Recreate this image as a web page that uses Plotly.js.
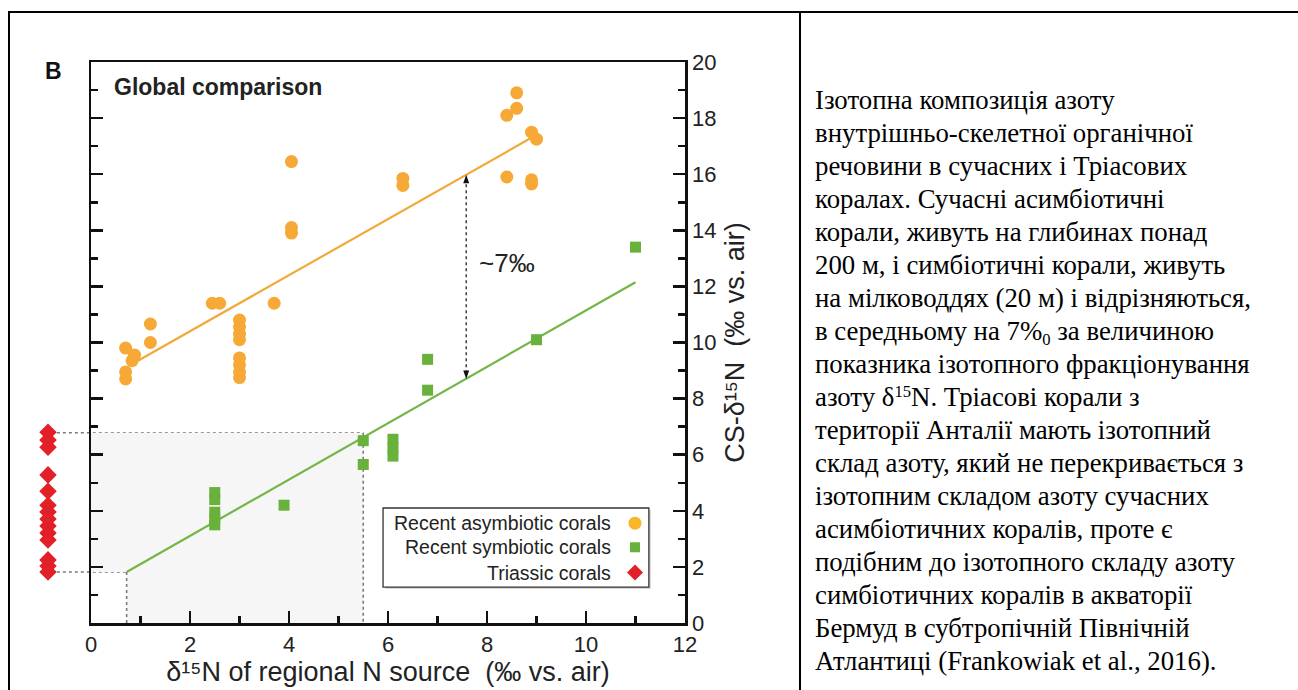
<!DOCTYPE html>
<html><head><meta charset="utf-8">
<script src="https://cdn.plot.ly/plotly-3.0.1.min.js"></script>
<style>
body{margin:0;background:#fff;width:1298px;height:690px;overflow:hidden;position:relative;}
#plot{position:absolute;left:0;top:0;width:800px;height:690px;}
.bl{position:absolute;background:#000;z-index:5;pointer-events:none}
#txt{position:absolute;left:815px;top:84px;font-family:"Liberation Serif","Times New Roman",serif;font-size:26.8px;line-height:33px;color:#000;white-space:nowrap;}
#txt div{height:33px}
#txt .sb{font-size:0.62em;position:relative;top:0.3em}
#txt .sp{font-size:0.62em;position:relative;top:-0.55em}
</style></head><body>
<div id="plot"></div>
<div class="bl" style="left:8px;top:11px;width:2px;height:679px"></div>
<div class="bl" style="left:8px;top:11px;width:1290px;height:2px"></div>
<div class="bl" style="left:799px;top:11px;width:2px;height:679px"></div>
<div id="txt"></div>
<script>
// ---- data ----
const asymX = [0.7,0.7,0.7,0.88,0.83,1.2,1.2,2.45,2.6,3.0,3.0,3.0,3.0,3.0,3.0,3.0,3.0,3.7,4.05,4.05,4.05,6.3,6.3,8.4,8.4,8.6,8.6,8.9,8.9,8.9,9.0];
const asymY = [9.8,8.95,8.7,9.55,9.35,10.66,10.0,11.4,11.4,10.8,10.55,10.3,10.1,9.45,9.2,8.95,8.75,11.4,16.45,14.1,13.9,15.85,15.6,18.1,15.9,18.9,18.35,17.5,15.8,15.65,17.25];
const symX = [2.5,2.5,2.5,2.5,2.5,3.9,5.5,5.5,6.1,6.1,6.1,6.8,6.8,9.0,11.0];
const symY = [4.65,4.4,3.95,3.7,3.5,4.2,6.5,5.65,6.55,6.25,5.95,9.4,8.3,10.1,13.4];
const triassicX = [0,0,0,0,0,0,0,0,0,0,0,0,0,0];
const triassicY = [6.8,6.52,6.27,5.28,4.7,4.2,3.96,3.71,3.46,3.21,2.96,2.25,2.03,1.82];
const asymFitX = [0.85,8.95];
const asymFitY = [9.25,17.35];
const symFitX = [0.72,11.0];
const symFitY = [1.82,12.15];
const xTicks = [0,2,4,6,8,10,12];
const yTicks = [0,2,4,6,8,10,12,14,16,18,20];
const legendLabels = ["Recent asymbiotic corals","Recent symbiotic corals","Triassic corals"];
const textLines = [
"Ізотопна композиція азоту",
"внутрішньо-скелетної органічної",
"речовини в сучасних і Тріасових",
"коралах. Сучасні асимбіотичні",
"корали, живуть на глибинах понад",
"200 м, і симбіотичні корали, живуть",
"на мілководдях (20 м) і відрізняються,",
"в середньому на 7%<span class=\"sb\">0</span> за величиною",
"показника ізотопного фракціонування",
"азоту δ<span class=\"sp\">15</span>N. Тріасові корали з",
"території Анталії мають ізотопний",
"склад азоту, який не перекривається з",
"ізотопним складом азоту сучасних",
"асимбіотичних коралів, проте є",
"подібним до ізотопного складу азоту",
"симбіотичних коралів в акваторії",
"Бермуд в субтропічній Північній",
"Атлантиці (Frankowiak et al., 2016)."
];
document.getElementById('txt').innerHTML = textLines.map(l=>'<div>'+l+'</div>').join('');

const ML=20, MR=115, MT=62, MB=67, W=800, H=690;
const PW=W-ML-MR, PH=H-MT-MB;
const d0 = (91-ML)/PW;
const xRange=[0,12], yRange=[0,20];
const xp = v => d0 + (v - xRange[0])/(xRange[1]-xRange[0])*(1-d0);
const pxX = px => (px-ML)/PW;
const pxY = py => (H-MB-py)/PH;
const SANS = 'Liberation Sans, Arial, sans-serif';
const orange='#f6a936', green='#68b13d', red='#e2202a';

const traces = [
 {x:asymFitX,y:asymFitY,mode:'lines',line:{color:'#f0aa3a',width:2.2},hoverinfo:'skip',showlegend:false},
 {x:symFitX,y:symFitY,mode:'lines',line:{color:'#72b646',width:2.2},hoverinfo:'skip',showlegend:false},
 {x:asymX,y:asymY,mode:'markers',name:legendLabels[0],marker:{symbol:'circle',size:13,color:orange},showlegend:false},
 {x:symX,y:symY,mode:'markers',name:legendLabels[1],marker:{symbol:'square',size:11,color:green},showlegend:false},
 {x:triassicX,y:triassicY,xaxis:'x2',yaxis:'y',mode:'markers',name:legendLabels[2],marker:{symbol:'diamond',size:13.5,color:red},showlegend:false}
];

const dotGray={color:'#7a7a7a',width:1.6,dash:'dot'};
const shapes = [
 {type:'path',xref:'x',yref:'y',path:'M 0,1.82 L 0,6.78 L 5.5,6.78 L 5.5,0 L 0.72,0 L 0.72,1.82 Z',fillcolor:'#f6f6f6',line:{width:0},layer:'below'},
 {type:'line',xref:'paper',yref:'y',x0:xp(-0.69),x1:xp(5.5),y0:6.78,y1:6.78,line:dotGray,layer:'below'},
 {type:'line',xref:'x',yref:'y',x0:5.5,x1:5.5,y0:6.78,y1:0,line:dotGray,layer:'below'},
 {type:'line',xref:'paper',yref:'y',x0:xp(-0.69),x1:xp(0.72),y0:1.82,y1:1.82,line:dotGray,layer:'below'},
 {type:'line',xref:'x',yref:'y',x0:0.72,x1:0.72,y0:1.82,y1:0,line:dotGray,layer:'below'},
 // double arrow
 {type:'line',xref:'x',yref:'y',x0:7.58,x1:7.58,y0:8.9,y1:15.75,line:{color:'#222',width:1.3,dash:'dot'}},
 {type:'path',xref:'x',yref:'y',path:'M 7.58,15.98 L 7.64,15.68 L 7.52,15.68 Z',fillcolor:'#111',line:{width:0}},
 {type:'path',xref:'x',yref:'y',path:'M 7.58,8.70 L 7.64,9.0 L 7.52,9.0 Z',fillcolor:'#111',line:{width:0}},
 // legend
 {type:'rect',xref:'x',yref:'y',x0:5.95,x1:11.31,y0:1.21,y1:4.03,fillcolor:'#d9d9d9',line:{width:0}},
 {type:'rect',xref:'x',yref:'y',x0:5.9,x1:11.27,y0:1.28,y1:4.1,fillcolor:'#ffffff',line:{color:'#333',width:1.3}},
 {type:'circle',xref:'x',yref:'y',x0:10.99-0.131,x1:10.99+0.131,y0:3.56-0.232,y1:3.56+0.232,fillcolor:'#f8b62a',line:{width:0}},
 {type:'rect',xref:'x',yref:'y',x0:10.99-0.101,x1:10.99+0.101,y0:2.70-0.178,y1:2.70+0.178,fillcolor:green,line:{width:0}},
 {type:'path',xref:'x',yref:'y',path:'M 10.99,2.085 L 11.152,1.8 L 10.99,1.515 L 10.828,1.8 Z',fillcolor:red,line:{width:0}}
];

const annotations = [
 {xref:'paper',yref:'paper',x:pxX(53),y:pxY(71),xanchor:'center',yanchor:'middle',text:'<b>B</b>',showarrow:false,font:{family:SANS,size:23,color:'#111'}},
 {xref:'paper',yref:'paper',x:pxX(112),y:pxY(87),xanchor:'left',yanchor:'middle',text:'<b>Global comparison</b>',showarrow:false,font:{family:SANS,size:23,color:'#222'}},
 {xref:'x',yref:'y',x:8.4,y:12.85,xanchor:'center',yanchor:'middle',text:'~7‰',showarrow:false,font:{family:SANS,size:26,color:'#222'}},
 {xref:'x',yref:'y',x:10.55,y:3.56,xanchor:'right',yanchor:'middle',text:legendLabels[0],showarrow:false,font:{family:SANS,size:19.5,color:'#222'}},
 {xref:'x',yref:'y',x:10.55,y:2.70,xanchor:'right',yanchor:'middle',text:legendLabels[1],showarrow:false,font:{family:SANS,size:19.5,color:'#222'}},
 {xref:'x',yref:'y',x:10.55,y:1.80,xanchor:'right',yanchor:'middle',text:legendLabels[2],showarrow:false,font:{family:SANS,size:19.5,color:'#222'}}
];

const axCommon = {showgrid:false,zeroline:false,ticks:'inside',ticklen:12,tickwidth:2.5,tickcolor:'#111',
  showline:true,linewidth:2.5,linecolor:'#111',tickfont:{family:SANS,size:22,color:'#222'},fixedrange:true};

const layout = {
 width:W,height:H,margin:{l:ML,r:MR,t:MT,b:MB},
 paper_bgcolor:'rgba(0,0,0,0)',plot_bgcolor:'rgba(0,0,0,0)',showlegend:false,
 xaxis:Object.assign({},axCommon,{domain:[d0,1],anchor:'y',range:xRange,tickvals:xTicks,ticktext:xTicks.map(String),mirror:true,
   minor:{dtick:1,tick0:0,ticks:'inside',ticklen:7,tickwidth:2.5,tickcolor:'#111',showgrid:false},
   title:{text:'δ¹⁵N of regional N source\u00a0\u00a0(‰ vs. air)',font:{family:SANS,size:27,color:'#222'},standoff:2}}),
 xaxis2:{domain:[0,(76-ML)/PW],anchor:'y',range:[-1,1],visible:false,showgrid:false,zeroline:false,fixedrange:true},
 yaxis:Object.assign({},axCommon,{anchor:'x',range:yRange,side:'right',tickvals:yTicks,ticktext:yTicks.map(String),mirror:'ticks',
   minor:{dtick:1,tick0:0,ticks:'inside',ticklen:7,tickwidth:2.5,tickcolor:'#111',showgrid:false},
   title:{text:'CS-δ¹⁵N\u00a0\u00a0(‰ vs. air)',font:{family:SANS,size:27,color:'#222'},standoff:10}}),
 shapes:shapes,annotations:annotations
};
Plotly.newPlot('plot',traces,layout,{staticPlot:true,displayModeBar:false});
</script>
</body></html>
